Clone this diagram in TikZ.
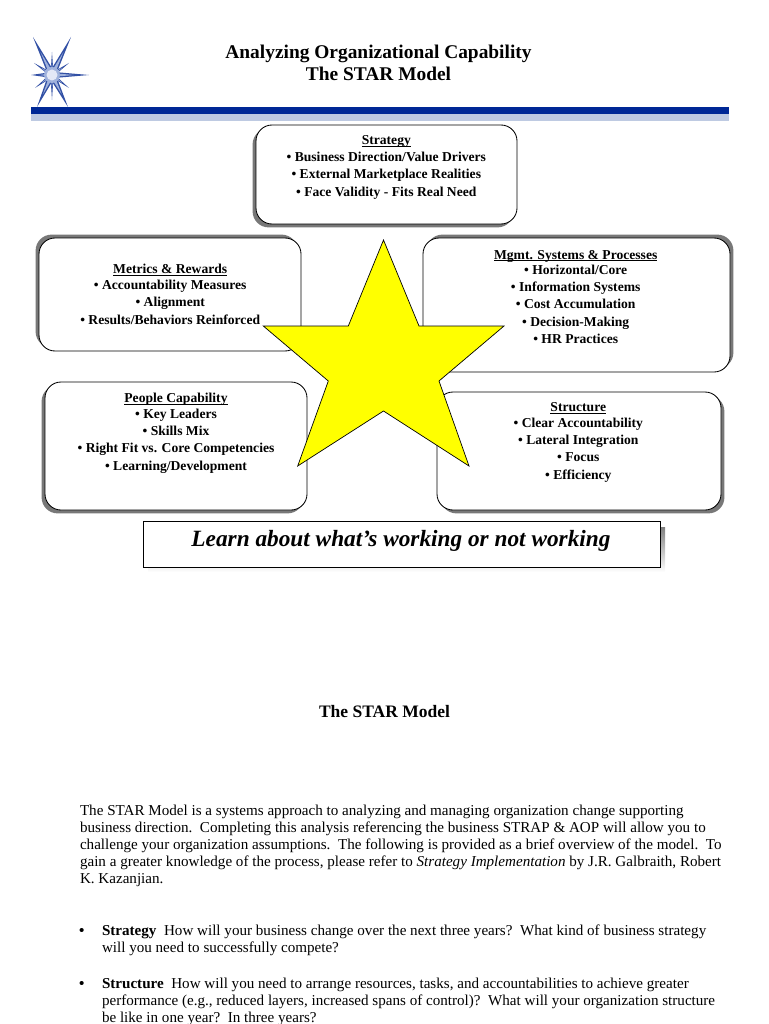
\documentclass[tikz,border=0pt]{standalone}
\usepackage{fontspec}
\setmainfont{Liberation Serif}
\usetikzlibrary{calc}
\definecolor{barblue}{RGB}{0,40,150}
\definecolor{barlight}{RGB}{190,202,226}
\definecolor{shade}{RGB}{120,120,120}
\definecolor{stary}{RGB}{255,255,0}
\definecolor{logoblue}{RGB}{50,80,165}
\definecolor{logomid}{RGB}{160,178,220}
\definecolor{logolight}{RGB}{228,232,246}
\tikzset{
  x=1pt,y=-1pt,
  every node/.style={inner sep=0pt,outer sep=0pt,anchor=base,font=\fontsize{13.6}{15}\selectfont\bfseries,text=black},
  rbox/.style={draw=black,line width=.85pt,fill=white,rounded corners=16pt},
  sbox/.style={fill=shade,rounded corners=16pt},
  body/.style={font=\fontsize{15.1}{17}\selectfont,anchor=base west},
  titletext/.style={font=\fontsize{19.4}{22}\selectfont\bfseries},
}
\newcommand{\ru}[1]{\setbox0\hbox{#1}\rlap{\rule[-1.7pt]{\wd0}{.8pt}}\box0}
\begin{document}
\begin{tikzpicture}
\useasboundingbox (0,0) rectangle (768,1024);
% logo
\coordinate (c) at (52,75);
\foreach \tx/\ty/\w in {33/37/3.6,71/37/3.6,89/75/3.2,31/75/3,37/107/3.6,68/107/3.6,52/52/1.6,52/100/1.6,34/63/2,69/63/2,35/88/2,69/88/2}{
  \coordinate (tip) at (\tx,\ty);
  \fill[logoblue] (tip) -- ($(c)!\w pt!90:(tip)$) -- ($(c)!\w pt!-90:(tip)$) -- cycle;
  \fill[logomid] ($(c)!.6!(tip)$) -- ($(c)!.6*\w pt!90:(tip)$) -- ($(c)!.6*\w pt!-90:(tip)$) -- cycle;
}
\fill[logomid] (c) circle (8);
\fill[logolight] (c) circle (5.5);
% bar
\fill[barblue] (31,107) rectangle (729,114);
\fill[barlight] (31,114) rectangle (729,121);
\node[titletext] (t1) at (378.5,58.3) {Analyzing Organizational Capability};
\node[titletext] (t2) at (378.5,80.7) {The STAR Model};
% boxes
\fill[sbox] (252.6,128.4) rectangle (513.6,227.4);
\draw[rbox] (256,125) rectangle (517,224);
\fill[sbox] (35.6,234.6) rectangle (297.6,347.6);
\draw[rbox] (39,238) rectangle (301,351);
\fill[sbox] (41.6,385.4) rectangle (303.6,513.4);
\draw[rbox] (45,382) rectangle (307,510);
\fill[sbox] (426.4,234.6) rectangle (733.4,368.6);
\draw[rbox] (423,238) rectangle (730,372);
\fill[sbox] (440.4,395.4) rectangle (724.4,513.4);
\draw[rbox] (437,392) rectangle (721,510);
% star
\draw[fill=stary,draw=black,line width=.7pt,line join=miter]
 (383.5,240) -- (419,326) -- (504,326) -- (439,381) -- (469,466) -- (383.5,411) -- (297.7,466) -- (328.3,381) -- (263.3,326) -- (348.3,326) -- cycle;
% strategy
\node (s0) at (386.3,145) {\ru{Strategy}};
\node (s1) at (386.3,161.7) {• Business Direction/Value Drivers};
\node (s2) at (386.3,179) {• External Marketplace Realities};
\node (s3) at (386.3,196.7) {• Face Validity - Fits Real Need};
% metrics
\node (m0) at (170.2,273.7) {\ru{Metrics \& Rewards}};
\node (m1) at (170.2,289) {• Accountability Measures};
\node (m2) at (170.2,306.3) {• Alignment};
\node (m3) at (170.2,324) {• Results/Behaviors Reinforced};
% people
\node (p0) at (176,402.7) {\ru{People Capability}};
\node (p1) at (176,418) {• Key Leaders};
\node (p2) at (176,435) {• Skills Mix};
\node (p3) at (176,452.7) {• Right Fit vs. Core Competencies};
\node (p4) at (176,470) {• Learning/Development};
% mgmt
\node (g0) at (575.7,259) {\ru{Mgmt. Systems \& Processes}};
\node (g1) at (575.7,274.7) {• Horizontal/Core};
\node (g2) at (575.7,291.7) {• Information Systems};
\node (g3) at (575.7,308.7) {• Cost Accumulation};
\node (g4) at (575.7,326.3) {• Decision-Making};
\node (g5) at (575.7,343.7) {• HR Practices};
% structure
\node (u0) at (578.3,411.7) {\ru{Structure}};
\node (u1) at (578.3,427) {• Clear Accountability};
\node (u2) at (578.3,444) {• Lateral Integration};
\node (u3) at (578.3,461.7) {• Focus};
\node (u4) at (578.3,479) {• Efficiency};
% banner
\fill[shade] (148,527) -- (665,527) -- (665,572) -- (148,572) -- cycle;
\draw[fill=white,draw=black,line width=.7pt] (143,521.5) rectangle (660,567);
\node[font=\fontsize{23.3}{28}\selectfont\bfseries\itshape] (b) at (401,546.5) {Learn about what’s working or not working};
\node[font=\fontsize{17.5}{20}\selectfont\bfseries] (h) at (384.5,717.3) {The STAR Model};
% body
\node[body] (l1) at (80,815) {The STAR Model is a systems approach to analyzing and managing organization change supporting};
\node[body] (l2) at (80,832) {business direction.~~Completing this analysis referencing the business STRAP \& AOP will allow you to};
\node[body] (l3) at (80,849) {challenge your organization assumptions.~~The following is provided as a brief overview of the model.~~To};
\node[body] (l4) at (80,866) {gain a greater knowledge of the process, please refer to \textit{Strategy Implementation} by J.R. Galbraith, Robert};
\node[body] (l5) at (80,883) {K. Kazanjian.};
\node[body] (d1) at (79,935) {\textbf{•}};
\node[body] (a1) at (102,935) {\textbf{Strategy}~~How will your business change over the next three years?~~What kind of business strategy};
\node[body] (a2) at (102,952) {will you need to successfully compete?};
\node[body] (d2) at (79,988) {\textbf{•}};
\node[body] (b1) at (102,988) {\textbf{Structure}~~How will you need to arrange resources, tasks, and accountabilities to achieve greater};
\node[body] (b2) at (102,1005) {performance (e.g., reduced layers, increased spans of control)?~~What will your organization structure};
\node[body] (b3) at (102,1022) {be like in one year?~~In three years?};
\end{tikzpicture}
\end{document}
